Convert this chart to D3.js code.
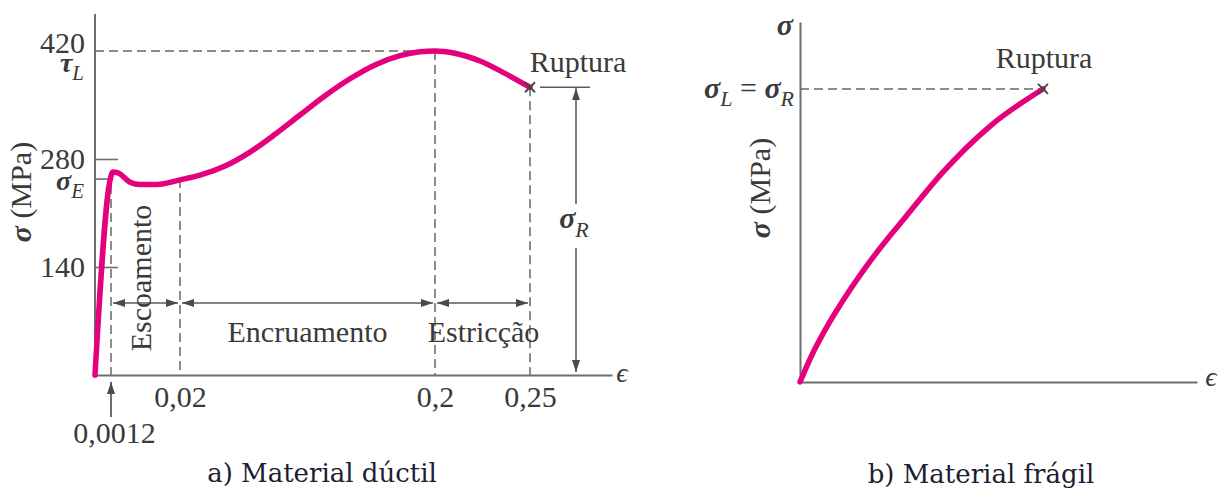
<!DOCTYPE html>
<html>
<head>
<meta charset="utf-8">
<script src="https://cdn.jsdelivr.net/npm/d3@7"></script>
<style>
  html, body { margin: 0; padding: 0; background: #ffffff; }
  svg { display: block; }
</style>
</head>
<body>
<svg id="chart" width="1220" height="489"></svg>
<script>
// ---- a) Ductile material: strain (-) vs stress (MPa) ----
const strainDuctil = [0, 0.0011, 0.0017, 0.0031, 0.0064, 0.0091, 0.0137, 0.02, 0.0341, 0.0518,
                      0.0694, 0.0871, 0.1047, 0.1224, 0.14, 0.1576, 0.1753, 0.1894, 0.2,
                      0.2105, 0.2237, 0.2368, 0.25];
const stressDuctil = [0, 250, 263, 262, 250, 247, 247, 253, 259, 271,
                      289, 312, 337, 362, 384, 402, 414, 419, 420,
                      417, 407, 391, 373];
const yTicksDuctil = [140, 280, 420];
const yTickLabels = ["140", "280", "420"];
const xTicksDuctil = [0.0012, 0.02, 0.2, 0.25];
const xTickLabels = ["0,0012", "0,02", "0,2", "0,25"];
const yieldStress = 254;       // σE
const ultimateStress = 420;    // σL
const ultimateStrain = 0.2;
const ruptureStress = 373;     // σR
const ruptureStrain = 0.25;
const zoneBounds = [0.0012, 0.02, 0.2, 0.25];
const zoneNames = ["Escoamento", "Encruamento", "Estricção"];

// ---- b) Brittle material: relative strain vs relative stress ----
const strainFragil = [0, 3.0, 6.3, 12.6, 19.4, 27.0, 36.0, 47.9, 61.2];
const stressFragil = [0, 7.5, 14.4, 25.6, 36.1, 46.4, 58.3, 71.1, 81.4];

const SERIF = "'Liberation Serif', 'Times New Roman', serif";
const TEXT = "#3a3a3a";
const AXIS = "#6e6e6e";
const DASH = "#8c8c8c";
const CURVE = "#e5007e";

const svg = d3.select("#chart");

// arrowhead marker
const defs = svg.append("defs");
defs.append("marker")
  .attr("id", "arrow")
  .attr("viewBox", "0 0 12 8")
  .attr("refX", 12).attr("refY", 4)
  .attr("markerWidth", 12).attr("markerHeight", 8)
  .attr("markerUnits", "userSpaceOnUse")
  .attr("orient", "auto-start-reverse")
  .append("path")
  .attr("d", "M0,0 L12,4 L0,8 Z")
  .attr("fill", "#4a4a4a");

function addSubLabel(g, x, y, main, sub, anchor, size, subSize, subDy) {
  const t = g.append("text")
    .attr("x", x).attr("y", y)
    .attr("text-anchor", anchor)
    .attr("font-family", SERIF)
    .attr("font-size", size)
    .attr("fill", TEXT);
  t.append("tspan").attr("font-style", "italic").attr("font-weight", "bold").text(main);
  t.append("tspan").attr("font-style", "italic").attr("font-size", subSize).attr("dy", subDy).text(sub);
  return t;
}

// symbol with subscript appended as a second line of an existing text
function appendSubLine(text, x, dy, main, sub, size, subSize, subDy) {
  text.append("tspan").attr("x", x).attr("dy", dy)
    .attr("font-style", "italic").attr("font-weight", "bold").attr("font-size", size).text(main);
  text.append("tspan").attr("dy", subDy)
    .attr("font-style", "italic").attr("font-size", subSize).text(sub);
}

function cross(g, x, y, r) {
  g.append("path")
    .attr("d", `M${x - r},${y - r}L${x + r},${y + r}M${x - r},${y + r}L${x + r},${y - r}`)
    .attr("stroke", "#444").attr("stroke-width", 1.8).attr("fill", "none");
}

// =================== a) Material dúctil ===================
const xL = d3.scaleLinear()
  .domain([0, 0.0012, 0.02, 0.2, 0.25, 0.3])
  .range([95, 111, 180, 435, 530, 612]);
const yL = d3.scaleLinear().domain([0, 420]).range([375, 51]);
const axisTopL = 468;

const gA = svg.append("g");

// dashed reference lines
const dashed = (x1, y1, x2, y2) => gA.append("line")
  .attr("x1", x1).attr("y1", y1).attr("x2", x2).attr("y2", y2)
  .attr("stroke", DASH).attr("stroke-width", 2).attr("stroke-dasharray", "9,5");

dashed(xL(0), yL(ultimateStress), xL(ultimateStrain), yL(ultimateStress));
dashed(xL(0.0012), yL(yieldStress) + 6, xL(0.0012), yL(0));
dashed(xL(0.02), yL(yieldStress), xL(0.02), yL(0));
dashed(xL(ultimateStrain), yL(ultimateStress), xL(ultimateStrain), yL(0));
dashed(xL(ruptureStrain), yL(ruptureStress), xL(ruptureStrain), yL(0));

// y axis
const yAxisL = gA.append("g")
  .attr("transform", `translate(${xL(0)},0)`)
  .call(d3.axisLeft(yL).tickValues(yTicksDuctil)
    .tickFormat((d, i) => yTickLabels[i])
    .tickSizeInner(-23).tickSizeOuter(0).tickPadding(10));
yAxisL.select(".domain").remove();
yAxisL.selectAll(".tick line").attr("stroke", AXIS).attr("stroke-width", 1.6)
  .filter(d => d === ultimateStress).remove();
yAxisL.selectAll(".tick text")
  .attr("font-family", SERIF).attr("font-size", 30).attr("fill", TEXT);
// 420 carries τL beneath it; 280 carries σE beneath it (at the yield level)
const t420 = yAxisL.selectAll(".tick").filter(d => d === ultimateStress).select("text")
  .attr("dy", "0.05em");
appendSubLine(t420, -11, 18.5, "τ", "L", 28, 21, 8);
const t280 = yAxisL.selectAll(".tick").filter(d => d === 280).select("text");
appendSubLine(t280, -11, yL(yieldStress) - yL(280) + 1, "σ", "E", 28, 21, 8);

gA.append("line")
  .attr("x1", xL(0)).attr("x2", xL(0))
  .attr("y1", yL(0)).attr("y2", yL(axisTopL))
  .attr("stroke", AXIS).attr("stroke-width", 2);
// yield tick
gA.append("line")
  .attr("x1", xL(0)).attr("x2", xL(0) + 15)
  .attr("y1", yL(yieldStress)).attr("y2", yL(yieldStress))
  .attr("stroke", AXIS).attr("stroke-width", 1.6);

// x axis
const xAxisL = gA.append("g")
  .attr("transform", `translate(0,${yL(0)})`)
  .call(d3.axisBottom(xL).tickValues(xTicksDuctil)
    .tickFormat((d, i) => xTickLabels[i])
    .tickSize(0).tickPadding(11));
xAxisL.select(".domain").attr("stroke", AXIS).attr("stroke-width", 2);
xAxisL.selectAll(".tick text")
  .attr("font-family", SERIF).attr("font-size", 30).attr("fill", TEXT);
xAxisL.selectAll(".tick")
  .filter(d => d === 0.0012)
  .select("text").attr("y", 47).attr("x", 3);
// pointer arrow to 0,0012
gA.append("line")
  .attr("x1", xL(0.0012)).attr("x2", xL(0.0012))
  .attr("y1", yL(0) + 42).attr("y2", yL(0) + 7)
  .attr("stroke", "#4a4a4a").attr("stroke-width", 1.6)
  .attr("marker-end", "url(#arrow)");

// axis symbols
gA.append("text").attr("x", 622).attr("y", yL(0) + 7)
  .attr("text-anchor", "middle").attr("font-family", SERIF)
  .attr("font-style", "italic").attr("font-size", 28).attr("fill", TEXT).text("ϵ");

const yLabL = gA.append("text")
  .attr("transform", `translate(31,192) rotate(-90)`)
  .attr("text-anchor", "middle").attr("font-family", SERIF)
  .attr("font-size", 30).attr("fill", TEXT);
yLabL.append("tspan").attr("font-style", "italic").attr("font-weight", "bold").text("σ");
yLabL.append("tspan").text(" (MPa)");

// zone dimension lines
const dimY = 303;
for (let i = 0; i < zoneNames.length; i++) {
  gA.append("line")
    .attr("x1", xL(zoneBounds[i]) + 2).attr("x2", xL(zoneBounds[i + 1]) - 2)
    .attr("y1", dimY).attr("y2", dimY)
    .attr("stroke", "#5a5a5a").attr("stroke-width", 1.6)
    .attr("marker-start", "url(#arrow)").attr("marker-end", "url(#arrow)");
}
gA.append("text")
  .attr("transform", `translate(151,278) rotate(-90)`)
  .attr("text-anchor", "middle").attr("font-family", SERIF)
  .attr("font-size", 30).attr("fill", TEXT).text(zoneNames[0]);
gA.append("text")
  .attr("x", (xL(zoneBounds[1]) + xL(zoneBounds[2])) / 2 + 0).attr("y", 342)
  .attr("text-anchor", "middle").attr("font-family", SERIF)
  .attr("font-size", 30).attr("fill", TEXT).text(zoneNames[1]);
gA.append("text")
  .attr("x", (xL(zoneBounds[2]) + xL(zoneBounds[3])) / 2 + 1).attr("y", 342)
  .attr("text-anchor", "middle").attr("font-family", SERIF)
  .attr("font-size", 30).attr("fill", TEXT).text(zoneNames[2]);

// σR dimension
const rX = xL(ruptureStrain) + 46;
gA.append("line")
  .attr("x1", xL(ruptureStrain) + 10).attr("x2", xL(ruptureStrain) + 60)
  .attr("y1", yL(ruptureStress)).attr("y2", yL(ruptureStress))
  .attr("stroke", "#5a5a5a").attr("stroke-width", 1.6);
gA.append("line")
  .attr("x1", rX).attr("x2", rX)
  .attr("y1", 204).attr("y2", yL(ruptureStress) + 1)
  .attr("stroke", "#5a5a5a").attr("stroke-width", 1.6)
  .attr("marker-end", "url(#arrow)");
gA.append("line")
  .attr("x1", rX).attr("x2", rX)
  .attr("y1", 248).attr("y2", yL(0) - 3)
  .attr("stroke", "#5a5a5a").attr("stroke-width", 1.6)
  .attr("marker-end", "url(#arrow)");
addSubLabel(gA, rX - 2, 228, "σ", "R", "middle", 30, 22, 9);

// curve
const lineL = d3.line()
  .x(d => xL(d[0])).y(d => yL(d[1]))
  .curve(d3.curveMonotoneX);
gA.append("path")
  .datum(d3.zip(strainDuctil, stressDuctil))
  .attr("d", lineL)
  .attr("fill", "none").attr("stroke", CURVE)
  .attr("stroke-width", 5.5).attr("stroke-linecap", "round").attr("stroke-linejoin", "round");

cross(gA, xL(ruptureStrain), yL(ruptureStress), 5);
gA.append("text").attr("x", 578).attr("y", 72)
  .attr("text-anchor", "middle").attr("font-family", SERIF)
  .attr("font-size", 30).attr("fill", TEXT).text("Ruptura");

gA.append("text").attr("x", 322).attr("y", 482)
  .attr("text-anchor", "middle").attr("font-family", "'DejaVu Serif', serif")
  .attr("font-size", 26).attr("fill", "#1d1d33").text("a) Material dúctil");

// =================== b) Material frágil ===================
const xR = d3.scaleLinear().domain([0, 100]).range([800, 1197]);
const yR = d3.scaleLinear().domain([0, 100]).range([382, 22]);
const gB = svg.append("g");

const ruptR = [strainFragil[strainFragil.length - 1], stressFragil[stressFragil.length - 1]];

gB.append("line")
  .attr("x1", xR(0)).attr("x2", xR(ruptR[0]))
  .attr("y1", yR(ruptR[1])).attr("y2", yR(ruptR[1]))
  .attr("stroke", DASH).attr("stroke-width", 2).attr("stroke-dasharray", "9,5");

const yAxisR = gB.append("g").attr("transform", `translate(${xR(0)},0)`)
  .call(d3.axisLeft(yR).tickValues([]).tickSizeOuter(0));
yAxisR.select(".domain").attr("stroke", AXIS).attr("stroke-width", 2);
const xAxisR = gB.append("g").attr("transform", `translate(0,${yR(0)})`)
  .call(d3.axisBottom(xR).tickValues([]).tickSizeOuter(0));
xAxisR.select(".domain").attr("stroke", AXIS).attr("stroke-width", 2);

gB.append("text").attr("x", 1211).attr("y", 386)
  .attr("text-anchor", "middle").attr("font-family", SERIF)
  .attr("font-style", "italic").attr("font-size", 28).attr("fill", TEXT).text("ϵ");
gB.append("text").attr("x", 793).attr("y", 35)
  .attr("text-anchor", "end").attr("font-family", SERIF)
  .attr("font-style", "italic").attr("font-weight", "bold")
  .attr("font-size", 30).attr("fill", TEXT).text("σ");

const yLabR = gB.append("text")
  .attr("transform", `translate(770,188) rotate(-90)`)
  .attr("text-anchor", "middle").attr("font-family", SERIF)
  .attr("font-size", 30).attr("fill", TEXT);
yLabR.append("tspan").attr("font-style", "italic").attr("font-weight", "bold").text("σ");
yLabR.append("tspan").text(" (MPa)");

const eqLab = gB.append("text")
  .attr("x", 794).attr("y", 98)
  .attr("text-anchor", "end").attr("font-family", SERIF)
  .attr("font-size", 30).attr("fill", TEXT);
eqLab.append("tspan").attr("font-style", "italic").attr("font-weight", "bold").text("σ");
eqLab.append("tspan").attr("font-style", "italic").attr("font-size", 22).attr("dy", 8).text("L");
eqLab.append("tspan").attr("dy", -8).text(" = ");
eqLab.append("tspan").attr("font-style", "italic").attr("font-weight", "bold").text("σ");
eqLab.append("tspan").attr("font-style", "italic").attr("font-size", 22).attr("dy", 8).text("R");

const lineR = d3.line()
  .x(d => xR(d[0])).y(d => yR(d[1]))
  .curve(d3.curveMonotoneX);
gB.append("path")
  .datum(d3.zip(strainFragil, stressFragil))
  .attr("d", lineR)
  .attr("fill", "none").attr("stroke", CURVE)
  .attr("stroke-width", 5.5).attr("stroke-linecap", "round");

cross(gB, xR(ruptR[0]), yR(ruptR[1]), 5);
gB.append("text").attr("x", 1044).attr("y", 68)
  .attr("text-anchor", "middle").attr("font-family", SERIF)
  .attr("font-size", 30).attr("fill", TEXT).text("Ruptura");

gB.append("text").attr("x", 981).attr("y", 483)
  .attr("text-anchor", "middle").attr("font-family", "'DejaVu Serif', serif")
  .attr("font-size", 26).attr("fill", "#1d1d33").text("b) Material frágil");
</script>
</body>
</html>
